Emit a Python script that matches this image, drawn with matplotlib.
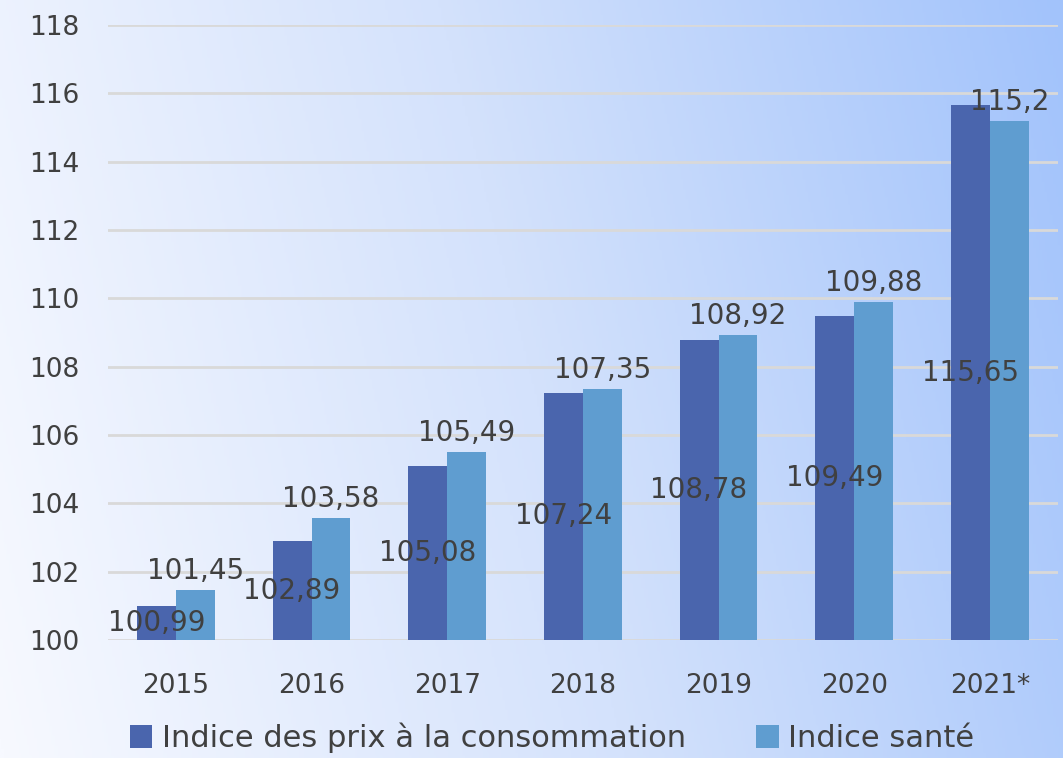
import numpy as np
import matplotlib.pyplot as plt
from matplotlib.colors import LinearSegmentedColormap

annees = ['2015', '2016', '2017', '2018', '2019', '2020', '2021*']
prix_conso = [100.99, 102.89, 105.08, 107.24, 108.78, 109.49, 115.65]
indice_sante = [101.45, 103.58, 105.49, 107.35, 108.92, 109.88, 115.2]
graduations = [100, 102, 104, 106, 108, 110, 112, 114, 116, 118]

c_prix = '#4a65ad'
c_sante = '#5f9dd0'
c_texte = '#404040'

plt.rcParams['font.family'] = ['DejaVu Sans']

fig = plt.figure(figsize=(10.63, 7.58), dpi=100)

# fond en dégradé (blanc à gauche, bleu clair à droite)
fond = fig.add_axes([0, 0, 1, 1], zorder=0)
gx, gy = np.meshgrid(np.linspace(0, 1, 400), np.linspace(0, 1, 300))
grad = np.clip(0.85 * gx + 0.15 * (1 - gy), 0, 1)
cmap = LinearSegmentedColormap.from_list('fond', ['#f7f9ff', '#d4e2fc', '#a2c3fb'])
fond.imshow(grad, cmap=cmap, aspect='auto', extent=[0, 1, 0, 1], origin='upper')
fond.axis('off')

ax = fig.add_axes([0.1016, 0.1557, 0.8934, 0.8113], zorder=1)
ax.patch.set_alpha(0)

x = np.arange(len(annees))
larg = 0.287
b1 = ax.bar(x - larg / 2, prix_conso, larg, color=c_prix, label='Indice des prix à la consommation', zorder=3)
b2 = ax.bar(x + larg / 2, indice_sante, larg, color=c_sante, label='Indice santé', zorder=3)

def fmt(v):
    return ('%g' % v).replace('.', ',')

for rect, v in zip(b1, prix_conso):
    ax.text(rect.get_x() + rect.get_width() / 2, (100 + v) / 2, fmt(v),
            ha='center', va='center', fontsize=20, color=c_texte, zorder=4)
for rect, v in zip(b2, indice_sante):
    ax.text(rect.get_x() + rect.get_width() / 2, v + 0.15, fmt(v),
            ha='center', va='bottom', fontsize=20, color=c_texte, zorder=4)

ax.set_xlim(-0.5, len(annees) - 0.5)
ax.set_ylim(100, 118)
ax.set_yticks(graduations)
ax.set_xticks(x)
ax.set_xticklabels(annees)
ax.tick_params(axis='both', length=0, labelsize=19, colors=c_texte)
ax.tick_params(axis='x', pad=24)
ax.tick_params(axis='y', pad=57)
for lab in ax.get_yticklabels():
    lab.set_horizontalalignment('left')
ax.grid(axis='y', color='#d9d9d9', linewidth=2, zorder=0)
for s in ax.spines.values():
    s.set_visible(False)

fig.legend(loc='lower left', bbox_to_anchor=(0.096, -0.03), ncol=2, frameon=False,
           fontsize=22, handlelength=0.75, handleheight=0.75, handletextpad=0.3,
           columnspacing=2.3, labelcolor=c_texte)

fig.savefig('out.png', dpi=100)
